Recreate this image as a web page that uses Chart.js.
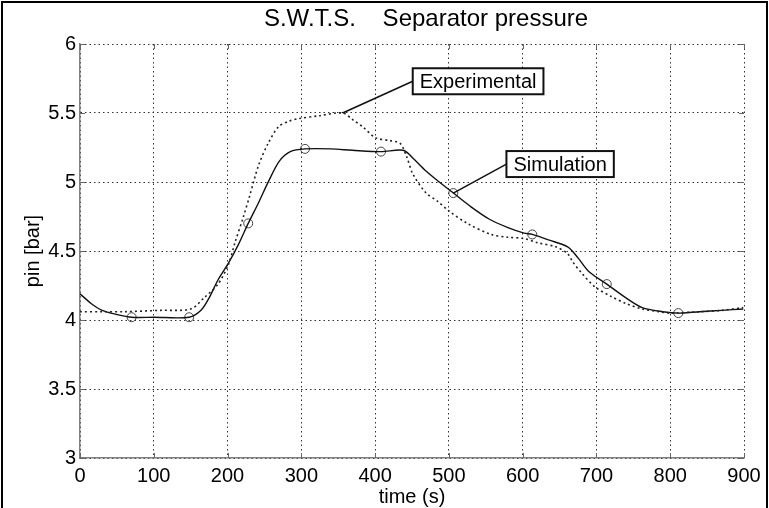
<!DOCTYPE html>
<html>
<head>
<meta charset="utf-8">
<script src="https://cdn.jsdelivr.net/npm/chart.js@4/dist/chart.umd.min.js"></script>
<style>
  html, body { margin: 0; padding: 0; background: #fff; }
  #c { display: block; }
</style>
</head>
<body>
<canvas id="c" width="769" height="508"></canvas>
<script>
// ---- data ----
const titleText = 'S.W.T.S.    Separator pressure';
const xTitle = 'time (s)';
const yTitle = 'pin [bar]';
const xTicks = [0, 100, 200, 300, 400, 500, 600, 700, 800, 900];
const yTicks = [3, 3.5, 4, 4.5, 5, 5.5, 6];

const simX = [0, 15, 30, 50, 70, 100, 148, 164, 175, 187, 201, 215, 228, 242, 256, 270, 285, 305, 340, 369, 408, 438, 450, 469, 487, 506, 530, 555, 580, 602, 613, 635, 661, 675, 690, 714, 740, 762, 790, 811, 840, 870, 899];
const simY = [4.19, 4.12, 4.07, 4.04, 4.02, 4.02, 4.02, 4.07, 4.16, 4.29, 4.41, 4.55, 4.70, 4.85, 5.01, 5.15, 5.22, 5.24, 5.24, 5.23, 5.22, 5.23, 5.18, 5.08, 5.00, 4.92, 4.82, 4.73, 4.67, 4.63, 4.62, 4.58, 4.53, 4.45, 4.35, 4.26, 4.16, 4.09, 4.06, 4.05, 4.06, 4.07, 4.08];

const simMarkX = [70, 148, 228, 305, 408, 506, 613, 714, 811];
const simMarkY = [4.02, 4.02, 4.70, 5.24, 5.22, 4.92, 4.62, 4.26, 4.05];

const expX = [0, 30, 60, 109, 150, 168, 187, 201, 210, 221, 230, 242, 255, 269, 283, 297, 324, 356, 370, 383, 401, 420, 434, 443, 451, 469, 485, 500, 525, 557, 580, 602, 620, 645, 661, 668, 680, 698, 720, 740, 762, 785, 800, 840, 870, 899];
const expY = [4.06, 4.06, 4.06, 4.07, 4.08, 4.16, 4.26, 4.40, 4.56, 4.74, 4.90, 5.12, 5.28, 5.40, 5.44, 5.46, 5.48, 5.50, 5.45, 5.40, 5.32, 5.30, 5.28, 5.18, 5.06, 4.92, 4.86, 4.79, 4.70, 4.62, 4.60, 4.59, 4.56, 4.53, 4.48, 4.42, 4.34, 4.24, 4.17, 4.12, 4.08, 4.06, 4.05, 4.06, 4.07, 4.09];

// callout labels: text, arrow tip (data), box left-middle anchor (data)
const calloutText = ['Experimental', 'Simulation'];
const calloutTipX = [356, 506];
const calloutTipY = [5.50, 4.92];
const calloutBoxX = [451, 578];
const calloutBoxY = [5.73, 5.13];

// ---- build ----
const toPts = (xs, ys) => xs.map((x, i) => ({x, y: ys[i]}));
const FONT = "'Liberation Sans', Arial, sans-serif";

const titlePlugin = {
  id: 'plotTitle',
  afterDraw(chart) {
    const {ctx, chartArea: a} = chart;
    ctx.save();
    ctx.font = '24px ' + FONT;
    ctx.fillStyle = '#000';
    ctx.textAlign = 'center';
    ctx.textBaseline = 'middle';
    ctx.fillText(titleText, (a.left + a.right) / 2 + 14, a.top - 25);
    ctx.restore();
  }
};

const frame = {
  id: 'frame',
  afterDraw(chart) {
    const ctx = chart.ctx;
    ctx.save();
    ctx.strokeStyle = '#000';
    ctx.lineWidth = 2;
    ctx.beginPath();
    ctx.moveTo(2, chart.height);
    ctx.lineTo(2, 2);
    ctx.lineTo(chart.width - 2, 2);
    ctx.lineTo(chart.width - 2, chart.height);
    ctx.stroke();
    ctx.restore();
  }
};

const innerTicks = {
  id: 'innerTicks',
  afterDatasetsDraw(chart) {
    const {ctx, chartArea: a, scales: {x, y}} = chart;
    ctx.save();
    ctx.strokeStyle = '#666';
    ctx.lineWidth = 1;
    const L = 5;
    ctx.beginPath();
    xTicks.forEach(v => {
      const px = Math.round(x.getPixelForValue(v)) + 0.5;
      ctx.moveTo(px, a.bottom); ctx.lineTo(px, a.bottom - L);
      ctx.moveTo(px, a.top); ctx.lineTo(px, a.top + L);
    });
    yTicks.forEach(v => {
      const py = Math.round(y.getPixelForValue(v)) + 0.5;
      ctx.moveTo(a.left, py); ctx.lineTo(a.left + L, py);
      ctx.moveTo(a.right, py); ctx.lineTo(a.right - L, py);
    });
    ctx.stroke();
    ctx.restore();
  }
};

const callouts = {
  id: 'callouts',
  afterDraw(chart) {
    const {ctx, scales: {x, y}} = chart;
    ctx.save();
    ctx.font = '20px ' + FONT;
    ctx.textBaseline = 'middle';
    ctx.textAlign = 'left';
    calloutText.forEach((t, i) => {
      const tx = x.getPixelForValue(calloutTipX[i]);
      const ty = y.getPixelForValue(calloutTipY[i]);
      const bx = x.getPixelForValue(calloutBoxX[i]);
      const by = y.getPixelForValue(calloutBoxY[i]);
      const w = ctx.measureText(t).width + 14;
      const h = 26;
      ctx.strokeStyle = '#111';
      ctx.lineWidth = 1.5;
      ctx.beginPath();
      ctx.moveTo(tx, ty);
      ctx.lineTo(bx, by);
      ctx.stroke();
      ctx.fillStyle = '#fff';
      ctx.fillRect(bx, by - h / 2, w, h);
      ctx.lineWidth = 2;
      ctx.strokeRect(bx, by - h / 2, w, h);
      ctx.fillStyle = '#000';
      ctx.fillText(t, bx + 7, by + 1);
    });
    ctx.restore();
  }
};

new Chart(document.getElementById('c'), {
  type: 'scatter',
  data: {
    datasets: [
      {
        label: 'Experimental',
        data: toPts(expX, expY),
        showLine: true,
        borderColor: '#222',
        borderWidth: 1.6,
        borderDash: [2, 3],
        pointRadius: 0,
        tension: 0.3,
        fill: false
      },
      {
        label: 'Simulation',
        data: toPts(simX, simY),
        showLine: true,
        borderColor: '#111',
        borderWidth: 1.4,
        pointRadius: 0,
        tension: 0.3,
        fill: false
      },
      {
        label: 'Simulation markers',
        data: toPts(simMarkX, simMarkY),
        showLine: false,
        pointStyle: 'circle',
        pointRadius: 4.5,
        pointBorderWidth: 1,
        pointBorderColor: '#444',
        pointBackgroundColor: 'rgba(0,0,0,0)'
      }
    ]
  },
  options: {
    responsive: false,
    animation: false,
    devicePixelRatio: 1,
    layout: { padding: { left: 0, right: 25, top: 44, bottom: 0 } },
    plugins: {
      legend: { display: false },
      tooltip: { enabled: false },
      title: { display: false }
    },
    scales: {
      x: {
        type: 'linear',
        min: 0, max: 900,
        afterBuildTicks: s => { s.ticks = xTicks.map(v => ({value: v})); },
        afterFit: s => { s.height = 50; },
        ticks: { color: '#000', font: { family: FONT, size: 20 }, padding: 6, maxRotation: 0 },
        grid: { color: '#333', lineWidth: 1, drawTicks: false },
        border: { display: true, color: '#808080', width: 1.5, dash: [1.5, 3] },
        title: { display: true, text: xTitle, color: '#000', font: { family: FONT, size: 20, lineHeight: 1 }, padding: { top: 1, bottom: 1 } }
      },
      y: {
        type: 'linear',
        min: 3, max: 6,
        afterBuildTicks: s => { s.ticks = yTicks.map(v => ({value: v})); },
        afterFit: s => { s.width = 80; },
        ticks: { color: '#000', font: { family: FONT, size: 20 }, padding: 4, callback: v => String(v) },
        grid: { color: '#333', lineWidth: 1, drawTicks: false },
        border: { display: true, color: '#808080', width: 1.5, dash: [1.5, 3] },
        title: { display: true, text: yTitle, color: '#000', font: { family: FONT, size: 20, lineHeight: 1 }, padding: { top: 23, bottom: 23 } }
      }
    }
  },
  plugins: [innerTicks, callouts, titlePlugin, frame]
});
</script>
</body>
</html>
